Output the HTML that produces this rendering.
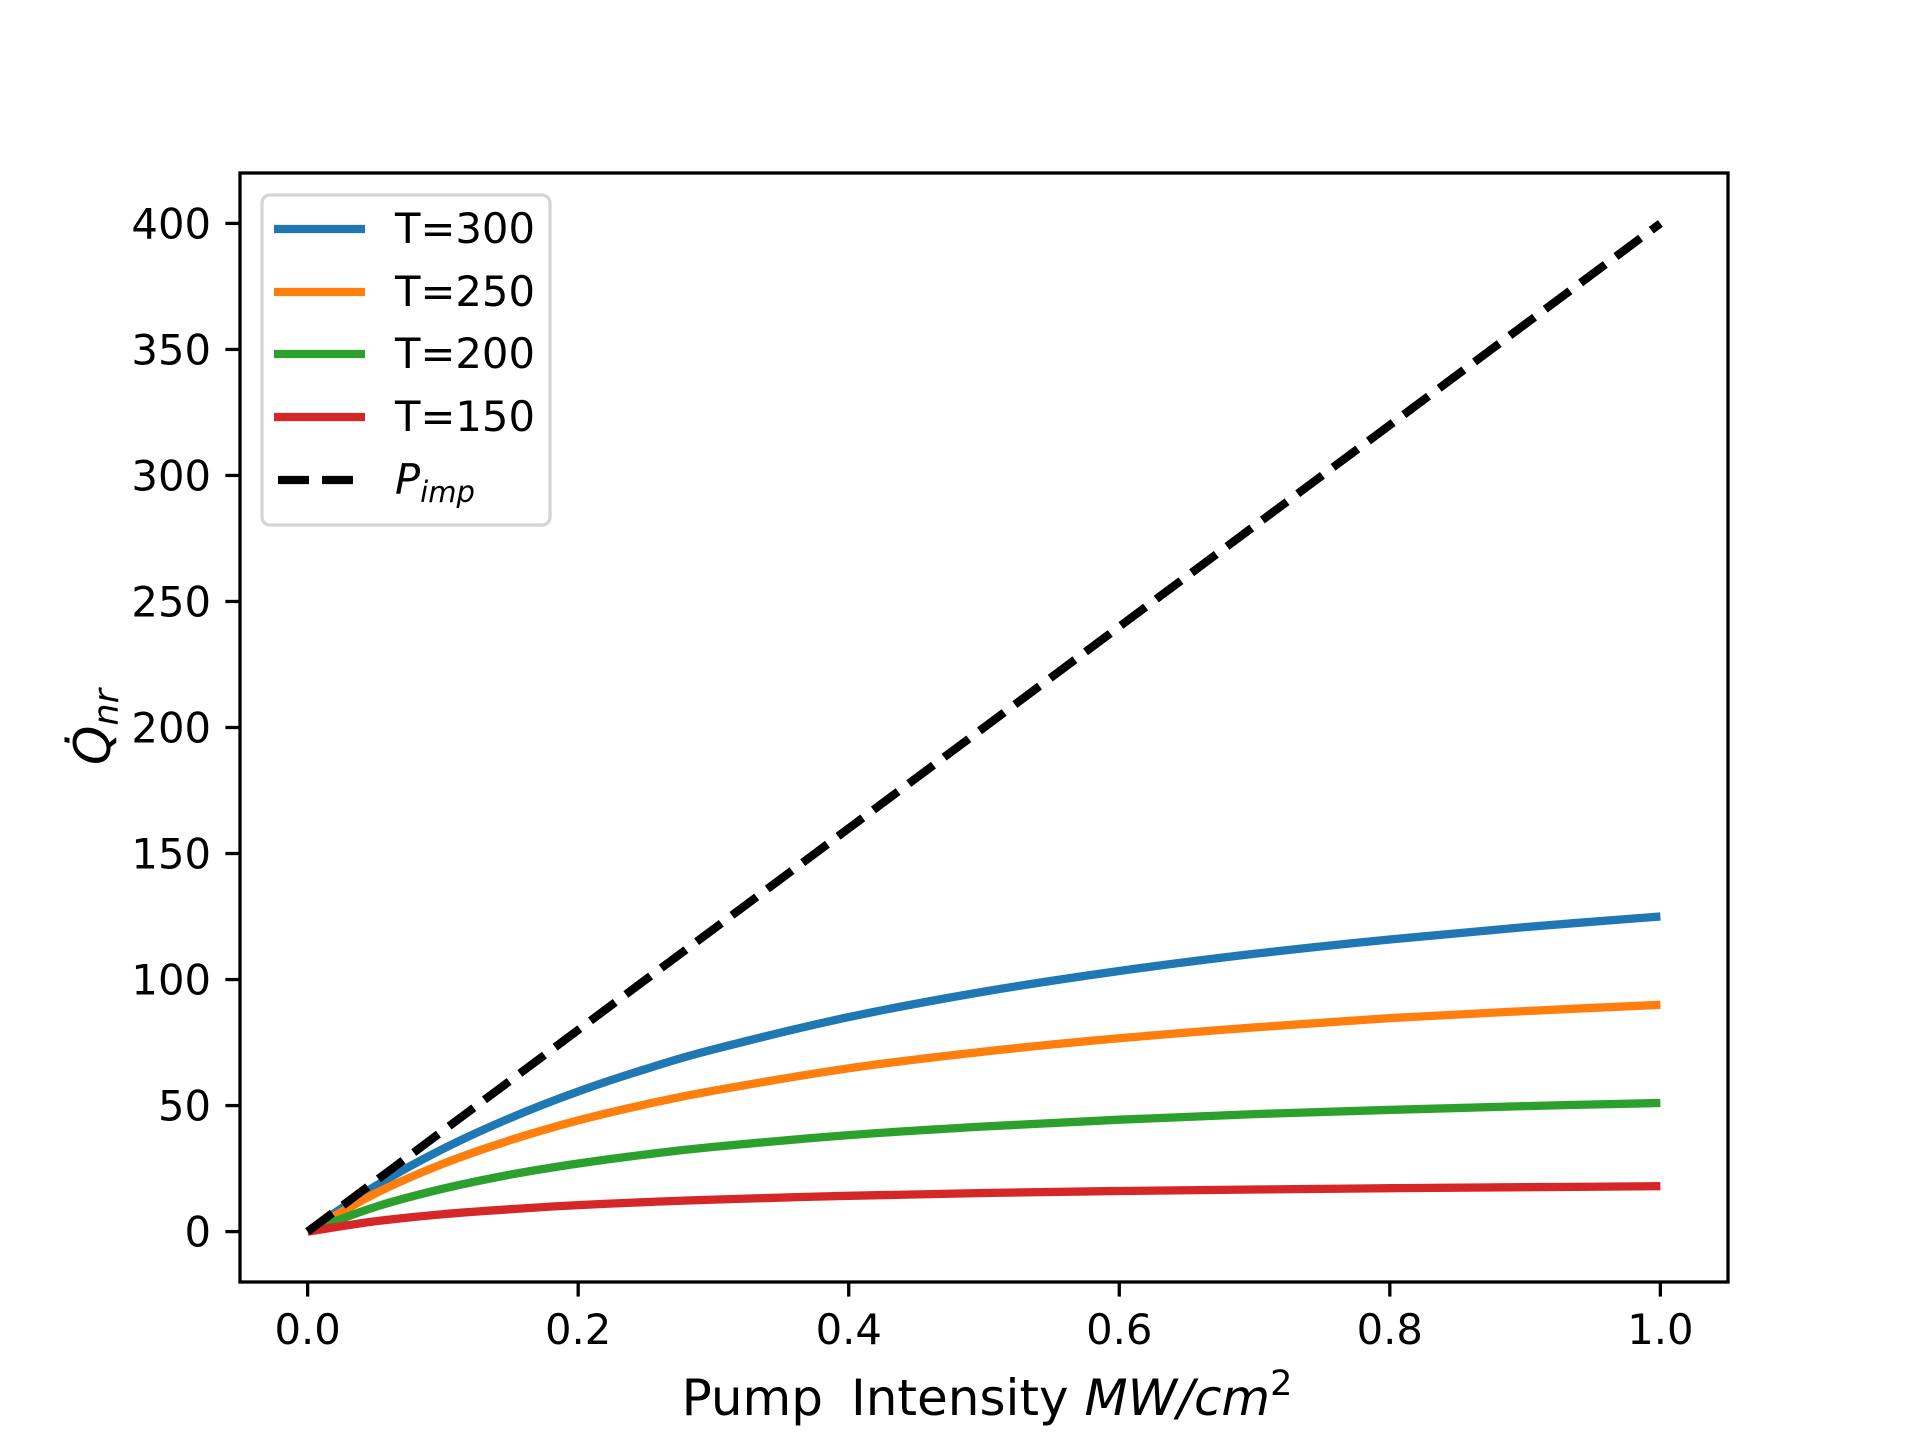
<!DOCTYPE html>
<html><head><meta charset="utf-8"><style>
html,body{margin:0;padding:0;background:#fff;}
svg{display:block;font-family:"DejaVu Sans","Liberation Sans",sans-serif;}
</style></head><body>
<svg id="chart" width="1920" height="1440" viewBox="0 0 1920 1440" xmlns="http://www.w3.org/2000/svg">
<rect width="1920" height="1440" fill="#fff"/>
<g id="plot"></g>
<g id="axes"></g>
<g id="legend"></g>
</svg>
<script>
const xValues = [0,0.05,0.1,0.15,0.2,0.25,0.3,0.4,0.5,0.6,0.7,0.8,0.9,1.0];
const t300 = [0,18.0,32.8,45.1,55.6,64.5,72.3,85.1,95.2,103.4,110.2,115.9,120.8,125];
const t250 = [0,15.1,26.9,36.3,44.1,50.5,55.9,64.8,71.4,76.7,81.0,84.7,87.5,90];
const t200 = [0,9.8,17.0,22.6,27.0,30.6,33.6,38.3,41.7,44.4,46.6,48.3,49.8,51];
const t150 = [0,4.1,6.9,8.9,10.5,11.7,12.7,14.2,15.3,16.1,16.7,17.2,17.6,18];
const pimpX = [0,1];
const pimpY = [0,400];
const xTicks = [0,0.2,0.4,0.6,0.8,1.0];
const xTickLabels = ["0.0","0.2","0.4","0.6","0.8","1.0"];
const yTicks = [0,50,100,150,200,250,300,350,400];
const yTickLabels = ["0","50","100","150","200","250","300","350","400"];
const seriesNames = ["T=300","T=250","T=200","T=150"];

const NS="http://www.w3.org/2000/svg";
const L=240,R=1728,T=173,B=1282;
const xmin=-0.05,xmax=1.05,ymin=-20,ymax=420;
function sx(v){return L+(v-xmin)/(xmax-xmin)*(R-L);}
function sy(v){return B-(v-ymin)/(ymax-ymin)*(B-T);}
function mk(tag,attrs,parent){const e=document.createElementNS(NS,tag);for(const k in attrs)e.setAttribute(k,attrs[k]);parent.appendChild(e);return e;}
function smoothPath(pts){
  let d='M'+pts[0][0].toFixed(1)+','+pts[0][1].toFixed(1);
  for(let i=0;i<pts.length-1;i++){
    const p0=pts[i-1]||pts[i],p1=pts[i],p2=pts[i+1],p3=pts[i+2]||p2;
    const c1=[p1[0]+(p2[0]-p0[0])/6,p1[1]+(p2[1]-p0[1])/6];
    const c2=[p2[0]-(p3[0]-p1[0])/6,p2[1]-(p3[1]-p1[1])/6];
    d+=' C'+c1[0].toFixed(1)+','+c1[1].toFixed(1)+' '+c2[0].toFixed(1)+','+c2[1].toFixed(1)+' '+p2[0].toFixed(1)+','+p2[1].toFixed(1);
  }
  return d;
}
const plot=document.getElementById('plot'),axes=document.getElementById('axes'),legend=document.getElementById('legend');

const series=[[t300,'#1f77b4','series-t300'],[t250,'#ff7f0e','series-t250'],[t200,'#2ca02c','series-t200'],[t150,'#d62728','series-t150']];
series.forEach(s=>{
  const pts=xValues.map((x,i)=>[sx(x),sy(s[0][i])]);
  const p=mk('path',{d:smoothPath(pts),fill:'none',stroke:s[1],'stroke-width':8.3,'stroke-linejoin':'round'},plot);
  
  
});
const pd=pimpX.map((x,i)=>(i?'L':'M')+sx(x)+','+sy(pimpY[i])).join(' ');
const pp=mk('path',{d:pd,fill:'none',stroke:'#000','stroke-width':8.3,'stroke-dasharray':'30.8,13.3'},plot);



const frame=mk('rect',{x:L,y:T,width:R-L,height:B-T,fill:'none',stroke:'#000','stroke-width':3.3},axes);



xTicks.forEach((v,i)=>{
  const x=sx(v);
  const tk=mk('line',{x1:x,x2:x,y1:B,y2:B+14.6,stroke:'#000','stroke-width':3.3},axes);
  
  
  const t=mk('text',{x:x,y:1344,'font-size':41.7,'text-anchor':'middle',fill:'#000'},axes);
  t.textContent=xTickLabels[i];
  
  
});
yTicks.forEach((v,i)=>{
  const y=sy(v);
  const tk=mk('line',{x1:L-14.6,x2:L,y1:y,y2:y,stroke:'#000','stroke-width':3.3},axes);
  
  
  const t=mk('text',{x:211,y:y+15,'font-size':41.7,'text-anchor':'end',fill:'#000'},axes);
  t.textContent=yTickLabels[i];
  
  
});

const xl=mk('text',{x:987,y:1415,'font-size':50,'text-anchor':'middle',fill:'#000'},axes);
xl.innerHTML='Pump<tspan dx="28">Intensity</tspan> <tspan font-style="italic">MW/cm</tspan><tspan font-size="35" dy="-20">2</tspan>';



const yl=mk('text',{x:0,y:0,'font-size':50,'text-anchor':'middle',fill:'#000',transform:'translate(110,727) rotate(-90)'},axes);
yl.innerHTML='<tspan font-style="italic">Q̇</tspan><tspan font-style="italic" font-size="35" dy="8">nr</tspan>';



const lb=mk('rect',{x:262,y:195,width:288,height:330,rx:8,fill:'#fff','fill-opacity':0.8,stroke:'#d5d5d5','stroke-width':3.3},legend);


const legY=[229,292,354,417];
series.forEach((s,i)=>{
  const g=mk('g',{},legend);
  
  
  mk('line',{x1:274,x2:365,y1:legY[i],y2:legY[i],stroke:s[1],'stroke-width':8.3},g);
  const t=mk('text',{x:395,y:legY[i]+14,'font-size':41.7,fill:'#000'},g);
  t.textContent=seriesNames[i];
});
const g=mk('g',{},legend);


mk('line',{x1:278,x2:365,y1:480,y2:480,stroke:'#000','stroke-width':8.3,'stroke-dasharray':'31,13'},g);
const pt=mk('text',{x:395,y:494,'font-size':41.7,fill:'#000','font-style':'italic'},g);
pt.innerHTML='P<tspan font-size="29" dy="8">imp</tspan>';
</script>
</body></html>
